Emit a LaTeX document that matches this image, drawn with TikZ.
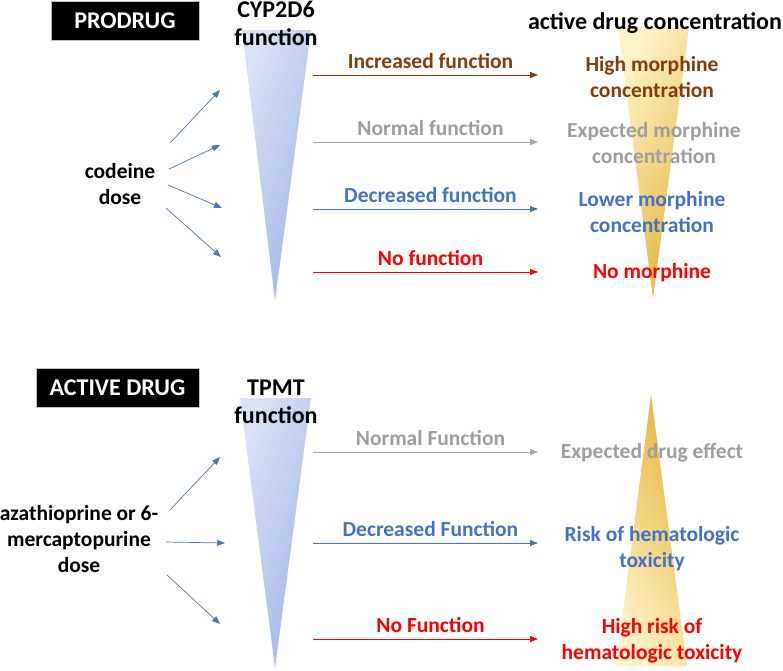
\documentclass[tikz,border=0pt]{standalone}
\usepackage{fontspec}
\setmainfont{Carlito}
\usetikzlibrary{arrows.meta}
\definecolor{brn}{HTML}{843C0C}
\definecolor{gry}{HTML}{A5A5A5}
\definecolor{grytxt}{HTML}{9E9E9E}
\definecolor{blu}{HTML}{4472C4}
\definecolor{rd}{HTML}{FF0000}
\definecolor{bluelight}{HTML}{DCE2F6}
\definecolor{bluedark}{HTML}{A3B6EA}
\definecolor{yellight}{HTML}{FFF3C8}
\definecolor{yelmid}{HTML}{FBD35C}
\definecolor{yeldark}{HTML}{E5B63F}
\tikzset{
  txt/.style={font=\bfseries\fontsize{21.5}{26}\selectfont, inner sep=0pt, align=center},
  head/.style={font=\bfseries\fontsize{24}{28}\selectfont, inner sep=0pt, align=center},
  tag/.style={head, fill=black, text=white, draw=gray!50, line width=0.6pt, minimum height=39pt},
  dosearrow/.style={blu, line width=0.7pt, -{Triangle[length=8pt,width=6pt]}},
  fnarrow/.style={line width=0.8pt, -{Triangle[length=8pt,width=6pt]}},
  fnlabel/.style={txt, midway, anchor=base, yshift=7pt, xshift=5pt},
}
\begin{document}
\begin{tikzpicture}[x=1pt,y=-1pt]
\useasboundingbox (0,0) rectangle (783,670);

% triangles
\shade[left color=bluelight, right color=bluedark, shading angle=70]
  (242,30) -- (311,30) -- (275,301) -- cycle;
\shade[left color=bluelight, right color=bluedark, shading angle=70]
  (240,398) -- (311,398) -- (275,668) -- cycle;
\shade[left color=yellight, middle color=yelmid, right color=yeldark, shading angle=60]
  (618,27) -- (689,27) -- (653,298) -- cycle;
\shade[left color=yellight, middle color=yelmid, right color=yeldark, shading angle=120]
  (651,395) -- (687,666) -- (616,666) -- cycle;

% ---------- PRODRUG ----------
\node[tag, minimum width=148pt] (pro) at (125,20.5) {PRODRUG};
\node[head, anchor=base] (cyp) at (276,45) {CYP2D6\\function};
\node[head, anchor=base] (adc) at (655,29) {active drug concentration};
\node[txt, anchor=base] (cod) at (120,204) {codeine\\dose};

\coordinate (cs1) at (170,143); \coordinate (ce1) at (220,90);
\coordinate (cs2) at (169,169); \coordinate (ce2) at (220,145);
\coordinate (cs3) at (168,185); \coordinate (ce3) at (222,208);
\coordinate (cs4) at (166,208); \coordinate (ce4) at (221,257);
\draw[dosearrow] (cs1) -- (ce1);
\draw[dosearrow] (cs2) -- (ce2);
\draw[dosearrow] (cs3) -- (ce3);
\draw[dosearrow] (cs4) -- (ce4);

\coordinate (fs1) at (313,75);  \coordinate (fe1) at (538,75);
\coordinate (fs2) at (313,142); \coordinate (fe2) at (538,142);
\coordinate (fs3) at (313,209); \coordinate (fe3) at (538,209);
\coordinate (fs4) at (313,272); \coordinate (fe4) at (538,272);
\draw[fnarrow, brn] (fs1) -- node[fnlabel, text=brn] (l1) {Increased function} (fe1);
\draw[fnarrow, gry] (fs2) -- node[fnlabel, text=grytxt] (l2) {Normal function} (fe2);
\draw[fnarrow, blu] (fs3) -- node[fnlabel, text=blu] (l3) {Decreased function} (fe3);
\draw[fnarrow, rd]  (fs4) -- node[fnlabel, text=rd] (l4) {No function} (fe4);

\node[txt, anchor=base, text=brn] (r1) at (652,97) {High morphine\\concentration};
\node[txt, anchor=base, text=grytxt] (r2) at (654,163) {Expected morphine\\concentration};
\node[txt, anchor=base, text=blu] (r3) at (652,232) {Lower morphine\\concentration};
\node[txt, anchor=base, text=rd]  (r4) at (652,278) {No morphine};

% ---------- ACTIVE DRUG ----------
\node[tag, minimum width=163pt] (act) at (117.5,387.5) {ACTIVE DRUG};
\node[head, anchor=base] (tpmt) at (276,423) {TPMT\\function};
\node[txt, anchor=base] (aza) at (79,572) {azathioprine or 6-\\mercaptopurine\\dose};

\coordinate (as1) at (170,510); \coordinate (ae1) at (220,457);
\coordinate (as2) at (166,542); \coordinate (ae2) at (225,543);
\coordinate (as3) at (167,575); \coordinate (ae3) at (220,624);
\draw[dosearrow] (as1) -- (ae1);
\draw[dosearrow] (as2) -- (ae2);
\draw[dosearrow] (as3) -- (ae3);

\coordinate (gs1) at (313,452); \coordinate (ge1) at (538,452);
\coordinate (gs2) at (313,543); \coordinate (ge2) at (538,543);
\coordinate (gs3) at (313,639); \coordinate (ge3) at (538,639);
\draw[fnarrow, gry] (gs1) -- node[fnlabel, text=grytxt] (m1) {Normal Function} (ge1);
\draw[fnarrow, blu] (gs2) -- node[fnlabel, text=blu] (m2) {Decreased Function} (ge2);
\draw[fnarrow, rd]  (gs3) -- node[fnlabel, text=rd] (m3) {No Function} (ge3);

\node[txt, anchor=base, text=grytxt] (s1) at (652,458) {Expected drug effect};
\node[txt, anchor=base, text=blu] (s2) at (652,567) {Risk of hematologic\\toxicity};
\node[txt, anchor=base, text=rd]  (s3) at (652,659) {High risk of\\hematologic toxicity};
\end{tikzpicture}
\end{document}
